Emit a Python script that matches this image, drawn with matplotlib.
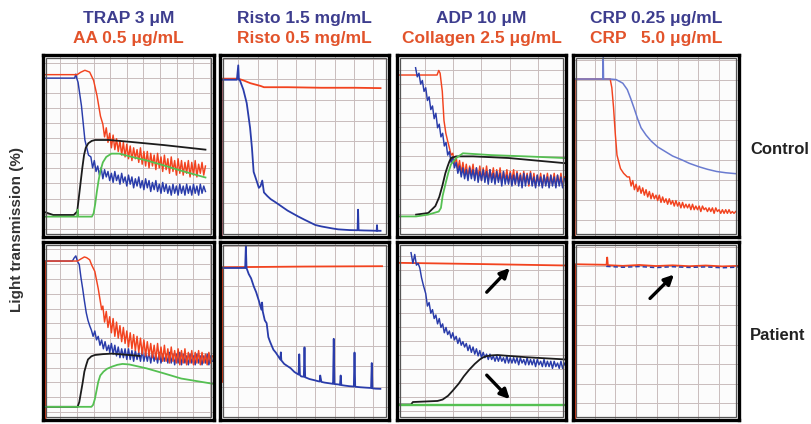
import matplotlib
matplotlib.use("Agg")
import matplotlib.pyplot as plt
import numpy as np
from matplotlib.patches import Rectangle

plt.rcParams['font.family'] = ['Liberation Sans', 'DejaVu Sans']

BLUE = "#2a3caa"
RED = "#f2431f"
BLACK = "#1c1c1c"
GREEN = "#55c052"
LAV = "#6a7bd0"
TITLE_BLUE = "#3d3d8e"
TITLE_RED = "#e2532b"

titles_top = ["TRAP 3 \u03bcM", "Risto 1.5 mg/mL", "ADP 10 \u03bcM", "CRP 0.25 \u03bcg/mL"]
titles_bottom = ["AA 0.5 \u03bcg/mL", "Risto 0.5 mg/mL", "Collagen 2.5 \u03bcg/mL", "CRP   5.0 \u03bcg/mL"]
row_labels = ["Control", "Patient"]

# ---------- column 1, control (TRAP blue / AA red) ----------
c1_blue_x = [1.4, 18.5, 19.2, 19.8, 20.5, 22.5, 24.5, 26.6]
c1_blue_y = [87.3, 87.3, 89.5, 87.0, 85.0, 72.0, 53.3, 45.0]
c1_blue_noise_start = 28
c1_blue_noise = [44, 38, 42, 36, 39, 34, 38, 32, 37, 33,
                 36, 31, 35, 30, 36, 31, 34, 29, 35, 30,
                 33, 28, 34, 29, 33, 27, 32, 28, 33, 27,
                 31, 26, 32, 27, 31, 25, 30, 26, 31, 25,
                 29, 24, 30, 25, 29, 24, 28, 23, 29, 24,
                 28, 23, 29, 24, 28, 23, 29, 24, 28, 23,
                 29, 24, 28, 23, 29, 24, 28, 25]
c1_red_x = [1.4, 20.0, 22.0, 24.5, 27.3, 29.6, 31.6, 33.6]
c1_red_y = [89.2, 89.2, 90.5, 91.6, 90.6, 86.0, 77.6, 66.4]
c1_red_noise_start = 35
c1_red_noise = [62, 55, 60, 52, 57, 49, 56, 48, 54, 47,
                53, 45, 52, 44, 51, 43, 50, 42, 49, 43,
                48, 41, 49, 40, 47, 39, 47, 38, 46, 39,
                45, 37, 46, 38, 44, 36, 45, 37, 43, 35,
                44, 36, 42, 34, 43, 35, 42, 34, 41, 35,
                42, 33, 41, 34, 42, 33, 40, 35, 41, 34,
                39]
c1_black_x = [0, 6, 18, 20, 21, 22, 23, 24, 25, 26.5, 28.5, 30.5, 38.6, 50.7, 70.8, 95]
c1_black_y = [14, 12.1, 12.1, 14, 22, 30, 38, 45, 49, 51.5, 52.8, 53.3, 53.3, 52.3, 50.5, 48]
c1_green_x = [0, 20, 20.3, 20.6, 28.6, 29.6, 30.5, 31.5, 32.5, 33.5, 35, 37, 40, 44.6, 50.7, 60.8, 70.8, 80.9, 95]
c1_green_y = [11.2, 11.2, 15, 11.2, 11.2, 13, 18, 25, 31, 36, 41, 44, 45.8, 45.8, 44.3, 42, 39.3, 36.4, 32.7]

# ---------- column 1, patient ----------
p1_blue_x = [1.0, 1.0, 17.2, 18.2, 19.2, 20.2, 21.2, 22.2, 23.2, 24.2, 25.3, 26.3, 27.3, 28.3,
             29.3, 30.3, 31.3, 32.3, 33.3, 34.3, 35.3, 36.3, 37.3, 38.4]
p1_blue_y = [0, 89.3, 89.3, 91, 92.2, 89, 87.4, 80, 73.8, 67, 60.2, 56, 53, 50.5,
             47, 50, 45, 47, 42, 45, 40, 44, 39, 42]
p1_blue_noise_start = 39
p1_blue_noise = [38, 43, 37, 42, 36, 41, 35, 40, 35, 40,
                 34, 40, 34, 39, 33, 39, 34, 38, 33, 39,
                 33, 38, 33, 38, 32, 38, 33, 37, 32, 38,
                 32, 37, 33, 37, 32, 38, 32, 37, 31, 37,
                 32, 38, 31, 37, 32, 36, 31, 37, 32, 36,
                 31, 37, 32, 36, 31, 36, 32, 37, 31, 36,
                 33]
p1_red_x = [1.6, 1.6, 20.2, 22.2, 24.2, 25.5, 27.3, 28.5, 30.3, 32.3, 34.3]
p1_red_y = [0, 89.3, 89.3, 90.5, 91.6, 91.2, 90, 87, 83.5, 73.8, 62]
p1_red_noise_start = 35
p1_red_noise = [64, 55, 61, 52, 58, 49, 57, 47, 55, 46,
                53, 44, 52, 43, 50, 41, 49, 40, 48, 39,
                47, 38, 46, 37, 45, 36, 44, 36, 43, 35,
                42, 34, 43, 34, 41, 33, 42, 33, 40, 32,
                41, 33, 39, 32, 40, 31, 39, 32, 40, 31,
                38, 32, 39, 31, 38, 32, 39, 31, 38, 32,
                37, 31, 38, 32, 36]
p1_black_x = [1, 20.2, 21.2, 22.2, 23.2, 24.2, 25.3, 26.3, 28.3, 30.3, 35, 40.4, 50.5, 56.6]
p1_black_y = [7.4, 7.4, 10, 15.5, 21, 27.2, 31, 34, 35.8, 36.5, 37, 37.3, 36.5, 36]
p1_green_x = [1, 28.3, 29.3, 30.3, 31.3, 32.3, 33.5, 35.4, 37.5, 40.4, 43.5, 46.5, 50.5, 60.6, 70.7, 80.8, 99]
p1_green_y = [7.4, 7.4, 8.5, 11.7, 16.5, 21.4, 25, 27.2, 28.8, 30, 31, 31.5, 31.2, 29, 26.2, 23.3, 20.4]

# ---------- column 2, control (Risto 1.5 blue / Risto 0.5 red) ----------
c2_red_x = [1.0, 1.0, 10.8, 14, 18, 24, 26, 40, 60, 80, 95]
c2_red_y = [0, 87, 87, 86, 84.5, 83, 82.3, 82.3, 82, 82, 81.8]
c2_blue_x = [0.8, 0.8, 10, 10.8, 11.2, 11.8, 13.8, 15.8, 17.8, 18.9, 19.9, 21.9, 23, 24, 25, 26,
             28, 30, 33, 36.1, 40, 46.2, 50, 56.4, 60, 66.5, 70, 76.7, 81.4, 81.7, 82, 85, 90,
             92.7, 92.9, 93.1, 95]
c2_blue_y = [0, 86.4, 86.4, 94.3, 86.4, 86, 81, 73.6, 60, 49, 35.8, 30.2, 27, 28, 31, 24.5,
             22.5, 20.8, 19, 17, 14.5, 11.3, 9.5, 6.6, 5.8, 4.7, 4.2, 3.8, 3.7, 15, 3.7, 3.6, 3.5,
             3.4, 6.5, 3.4, 3.4]

# ---------- column 2, patient ----------
p2_red_x = [1.4, 1.4, 50, 95.9]
p2_red_y = [21.4, 85.8, 86.2, 86.4]
p2_blue_x = [1.4, 14.9, 15.3, 15.7, 17, 18.4, 20, 21.4, 23, 24.5, 24.9, 25.3, 26.5, 27.6, 28.6,
             29.6, 30.6, 31.6, 33, 35.7, 36, 36.3, 38, 41.8, 44, 46.5, 46.9, 47.3, 48, 49.6, 50,
             50.4, 53, 56.1, 58, 59, 59.3, 60, 62, 66.3, 66.9, 67.3, 67.7, 70, 71, 71.4, 71.8,
             74, 76.5, 79.2, 79.6, 80, 83, 86, 89.4, 89.8, 90.2, 92, 94.9]
p2_blue_y = [85.4, 85.4, 98, 85.4, 82, 79.6, 75, 71.8, 67, 62, 66, 61, 56, 54.4, 46.6,
             44, 41.7, 39.5, 37.9, 34, 38, 33.5, 31.5, 29.1, 27, 25.5, 36.9, 25.3, 24.5, 24.3, 40.8,
             24, 23, 22.3, 21.8, 21.6, 25, 21.4, 21, 20.4, 20.3, 45.6, 20.2, 20, 19.7, 25, 19.6,
             19.3, 19, 18.8, 37.9, 18.7, 18.4, 18.2, 18, 32, 17.8, 17.6, 17.5]

# ---------- column 3, control (ADP blue / Collagen red) ----------
c3_red_x = [0.5, 23.7, 24.7, 25.5, 26.8, 27.8, 28.9, 29.9, 31, 32]
c3_red_y = [89, 89, 91.5, 90, 80, 64, 57, 53, 49, 45]
c3_red_noise_start = 33
c3_red_noise = [46, 40, 44, 37, 42, 35, 41, 34, 40, 33,
                39, 34, 40, 32, 38, 33, 39, 31, 38, 32,
                39, 31, 37, 32, 38, 30, 37, 31, 38, 30,
                36, 31, 37, 30, 36, 31, 37, 29, 36, 30,
                35, 29, 36, 30, 35, 28, 36, 29, 35, 28,
                34, 29, 35, 28, 34, 29, 35, 28, 34, 29,
                35, 28, 34, 29, 35, 28, 33]
c3_blue_noise_start = 11
c3_blue_noise = [93, 88, 90, 84, 86, 80, 82, 75, 77, 70,
                 72, 65, 68, 60, 62, 55, 57, 50, 52, 45,
                 47, 41, 44, 38, 41, 35, 39, 33, 38, 32,
                 37, 31, 38, 32, 37, 31, 38, 30, 36, 31,
                 37, 30, 36, 29, 37, 30, 35, 29, 36, 30,
                 35, 28, 36, 29, 34, 29, 35, 28, 34, 29,
                 35, 28, 34, 27, 35, 28, 34, 29, 35, 28,
                 33, 27, 34, 28, 33, 27, 34, 28, 33, 27,
                 34, 28, 33, 27, 34, 28, 33, 27, 32]
c3_black_x = [11.3, 18.5, 22.7, 25, 26.8, 28.6, 29.9, 31, 32, 35, 45, 66, 99]
c3_black_y = [12.3, 13.2, 17, 22, 28, 35, 38.7, 41.5, 43.4, 44.3, 44.3, 43.4, 40.6]
c3_green_x = [0, 11.3, 18.5, 24.7, 26, 27, 28.9, 30.5, 32, 35, 39, 55.7, 76.3, 99]
c3_green_y = [11.3, 11.3, 12.3, 14, 16, 22.6, 30, 35.8, 40, 43.4, 46, 45, 44.3, 43.4]

# ---------- column 3, patient ----------
p3_red_x = [0.6, 0.6, 50, 100]
p3_red_y = [33, 88.3, 87.6, 86.8]
p3_blue_x = [8.3, 9.4, 10.5, 11.5, 12.5, 13.5, 14.5, 15.6]
p3_blue_y = [94, 88, 93, 87, 88, 85.4, 80, 75.7]
p3_blue_noise_start = 17
p3_blue_noise = [71, 64, 66, 60, 62, 57, 59, 54, 57, 52,
                 54, 49, 52, 48, 50, 46, 49, 45, 47, 43,
                 46, 42, 44, 41, 43, 39, 42, 38, 41, 37,
                 40, 36, 39, 35, 38, 35, 37, 34, 37, 34,
                 36, 33, 36, 33, 36, 33, 35, 32, 36, 32,
                 35, 32, 35, 32, 35, 31, 35, 32, 34, 31,
                 35, 31, 34, 31, 34, 30, 34, 31, 33, 30,
                 34, 30, 33, 30, 33, 29, 33, 30, 32, 29,
                 33, 29, 32, 30]
p3_black_x = [1, 8.3, 9.4, 24, 27, 30.2, 33, 36.5, 39.5, 42.7, 46, 49, 51, 53.1, 56, 59.4, 76, 100]
p3_black_y = [8.7, 8.7, 10.1, 10.7, 11.5, 13.6, 16.5, 20.4, 24.5, 28.2, 31.5, 34, 35.2, 35.9, 36.3, 36.5, 35.3, 34]
p3_green_x = [0, 100]
p3_green_y = [8.7, 8.7]

# ---------- column 4, control (CRP 0.25 blue / CRP 5.0 red) ----------
c4_red_x = [1.2, 1.2, 22.4, 23.4, 24.4, 25.5, 26.5, 28.6, 30.5, 32.7]
c4_red_y = [0, 86.8, 86.8, 82, 71.4, 56.4, 45, 37.6, 35, 33]
c4_red_noise_start = 34
c4_red_noise = [33, 28, 31, 26, 29, 25, 28, 24, 27, 23,
                26, 22, 25, 21, 24, 21, 23, 20, 23, 19,
                22, 19, 21, 18, 21, 18, 20, 17, 20, 17,
                19, 16, 19, 16, 18, 16, 18, 15, 18, 15,
                17, 15, 17, 14, 17, 15, 16, 14, 16, 14,
                16, 13, 16, 14, 15, 13, 15, 13, 15, 13,
                15, 13, 14, 13, 14]
c4_blue_x = [1.2, 18.0, 18.2, 18.4, 22.4, 26, 30, 32.7, 34.8, 36.9, 38.9, 41, 44, 47.2, 51, 55.5,
             60, 65.8, 70, 76.2, 81, 86.5, 92, 98]
c4_blue_y = [86.8, 86.8, 98.5, 86.8, 86.8, 86.5, 84.5, 81, 76, 70.5, 65, 60, 56, 52.6, 49.5, 47,
             44.5, 42.3, 40.5, 38.5, 37.2, 36, 35.3, 34.8]

# ---------- column 4, patient ----------
p4_red_x = [1.4, 1.4, 20.2, 20.6, 21, 30, 40, 50, 60, 70, 80, 90, 100]
p4_red_y = [0, 87.5, 87.2, 91.3, 87, 86.6, 87.1, 86.5, 86.9, 86.4, 86.8, 86.3, 86.6]
p4_blue_x = [20, 30, 40, 50, 60, 70, 80, 90, 100]
p4_blue_y = [86.3, 85.8, 86.2, 85.6, 86.1, 85.7, 86.0, 85.5, 85.9]

# arrows (tail, head) in panel units
p3_arrows = [((53.1, 71.8), (66.7, 85.4)), ((53.1, 25.2), (66.7, 11.7))]
p4_arrows = [((46.4, 68.3), (60.8, 81.7))]


def noisy(x, y, start, noise):
    xs = list(x) + list(np.arange(start, start + len(noise)))
    ys = list(y) + list(noise)
    return xs, ys


fig = plt.figure(figsize=(8.11, 4.24), dpi=100)

col_px = [(43, 171), (220, 169), (397, 169), (573, 166)]
row_px = [(55, 237), (242, 420)]
W, H = 811.0, 424.0

# grid spacing per column: (x start, x step, y start, y step)
grids = [(10.2, 9.7, 4.5, 8.3), (10.8, 11.4, 7.5, 11.3), (16.5, 16.7, 5.0, 7.9), (13.0, 12.5, 9.4, 11.0)]

axes = {}
for r, (top, bot) in enumerate(row_px):
    for c, (left, width) in enumerate(col_px):
        ax = fig.add_axes([left / W, 1 - bot / H, width / W, (bot - top) / H])
        ax.set_xlim(0, 100)
        ax.set_ylim(0, 100)
        ax.set_facecolor("#fcfcfc")
        gx0, gdx, gy0, gdy = grids[c]
        ax.set_xticks(np.arange(gx0, 99.5, gdx))
        ax.set_yticks(np.arange(gy0, 99.5, gdy))
        ax.grid(True, color="#c9bdbd", lw=0.7)
        ax.tick_params(length=0, labelbottom=False, labelleft=False)
        for s in ax.spines.values():
            s.set_linewidth(2.4)
            s.set_color("black")
        ax.add_patch(Rectangle((0.018, 0.016), 0.964, 0.968, transform=ax.transAxes,
                               fill=False, lw=0.9, ec="#555555", zorder=5))
        axes[(r, c)] = ax

lw_n = 1.05
lw_s = 1.3

# column 1
ax = axes[(0, 0)]
ax.plot(*noisy(c1_blue_x, c1_blue_y, c1_blue_noise_start, c1_blue_noise), color=BLUE, lw=lw_n)
ax.plot(*noisy(c1_red_x, c1_red_y, c1_red_noise_start, c1_red_noise), color=RED, lw=lw_n)
ax.plot(c1_black_x, c1_black_y, color=BLACK, lw=lw_s)
ax.plot(c1_green_x, c1_green_y, color=GREEN, lw=lw_s)
ax = axes[(1, 0)]
ax.plot(*noisy(p1_blue_x, p1_blue_y, p1_blue_noise_start, p1_blue_noise), color=BLUE, lw=lw_n)
ax.plot(*noisy(p1_red_x, p1_red_y, p1_red_noise_start, p1_red_noise), color=RED, lw=lw_n)
ax.plot(p1_black_x, p1_black_y, color=BLACK, lw=lw_s)
ax.plot(p1_green_x, p1_green_y, color=GREEN, lw=lw_s)

# column 2
ax = axes[(0, 1)]
ax.plot(c2_red_x, c2_red_y, color=RED, lw=lw_s)
ax.plot(c2_blue_x, c2_blue_y, color=BLUE, lw=lw_s)
ax = axes[(1, 1)]
ax.plot(p2_red_x, p2_red_y, color=RED, lw=lw_s)
ax.plot(p2_blue_x, p2_blue_y, color=BLUE, lw=lw_s)

# column 3
ax = axes[(0, 2)]
ax.plot(*noisy(c3_red_x, c3_red_y, c3_red_noise_start, c3_red_noise), color=RED, lw=lw_n)
ax.plot(*noisy([], [], c3_blue_noise_start, c3_blue_noise), color=BLUE, lw=lw_n)
ax.plot(c3_black_x, c3_black_y, color=BLACK, lw=lw_s)
ax.plot(c3_green_x, c3_green_y, color=GREEN, lw=lw_s)
ax = axes[(1, 2)]
ax.plot(p3_red_x, p3_red_y, color=RED, lw=lw_s)
ax.plot(*noisy(p3_blue_x, p3_blue_y, p3_blue_noise_start, p3_blue_noise), color=BLUE, lw=lw_n)
ax.plot(p3_black_x, p3_black_y, color=BLACK, lw=lw_s)
ax.plot(p3_green_x, p3_green_y, color=GREEN, lw=lw_s + 0.4)
for tail, head in p3_arrows:
    ax.annotate("", xy=head, xytext=tail,
                arrowprops=dict(arrowstyle="-|>", lw=2.4, color="black", mutation_scale=14,
                                shrinkA=0, shrinkB=0))

# column 4
ax = axes[(0, 3)]
ax.plot(*noisy(c4_red_x, c4_red_y, c4_red_noise_start, c4_red_noise), color=RED, lw=lw_n)
ax.plot(c4_blue_x, c4_blue_y, color=LAV, lw=lw_s - 0.2)
ax = axes[(1, 3)]
ax.plot(p4_red_x, p4_red_y, color=RED, lw=lw_s)
ax.plot(p4_blue_x, p4_blue_y, color=BLUE, lw=lw_n, ls=(0, (3, 2)))
for tail, head in p4_arrows:
    ax.annotate("", xy=head, xytext=tail,
                arrowprops=dict(arrowstyle="-|>", lw=2.4, color="black", mutation_scale=14,
                                shrinkA=0, shrinkB=0))

# titles
for c, (left, width) in enumerate(col_px):
    cx = (left + width / 2) / W
    fig.text(cx, 1 - 18 / H, titles_top[c], color=TITLE_BLUE, fontsize=12.5,
             fontweight="bold", ha="center", va="center")
    fig.text(cx, 1 - 39 / H, titles_bottom[c], color=TITLE_RED, fontsize=12.5,
             fontweight="bold", ha="center", va="center")

fig.text(750 / W, 1 - 150 / H, row_labels[0], fontsize=12, fontweight="bold",
         color="#222222", ha="left", va="center")
fig.text(750 / W, 1 - 335 / H, row_labels[1], fontsize=12, fontweight="bold",
         color="#222222", ha="left", va="center")
fig.text(17 / W, 1 - 230 / H, "Light transmission (%)", fontsize=11, fontweight="bold",
         color="#333333", rotation=90, ha="center", va="center")

fig.savefig("out.png", dpi=100)
